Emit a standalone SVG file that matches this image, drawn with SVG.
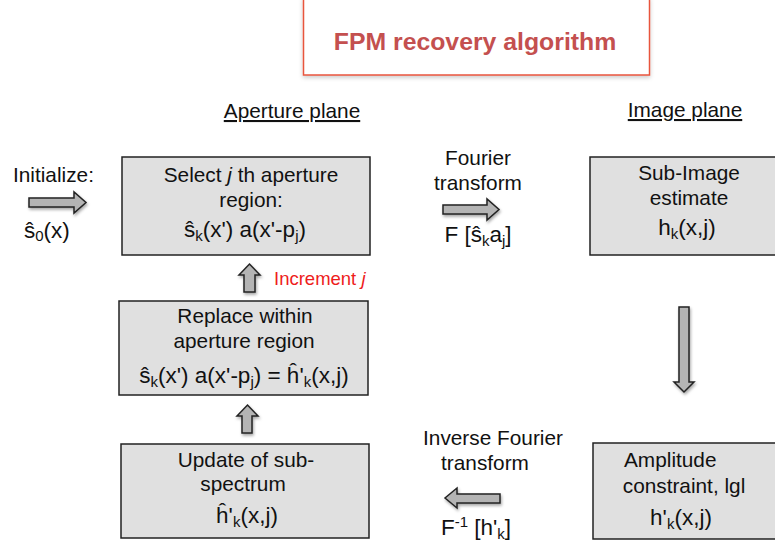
<svg xmlns="http://www.w3.org/2000/svg" width="775" height="548" viewBox="0 0 775 548">
<style>
text{font-family:"Liberation Sans",Arial,sans-serif;fill:#111}
.t{font-size:20.8px}
.f{font-size:22.5px}
.c{text-anchor:middle}
.box{fill:#e0e0e0;stroke:#222;stroke-width:1.5}
.arr{fill:#b4b4b4;stroke:#222;stroke-width:1.5;stroke-linejoin:miter;filter:url(#sh)}
.sub{font-size:15px}
</style>
<defs>
<filter id="sh" x="-30%" y="-30%" width="160%" height="160%">
<feDropShadow dx="1" dy="2" stdDeviation="1.5" flood-color="#000" flood-opacity="0.35"/>
</filter>
<filter id="sh2" x="-10%" y="-10%" width="120%" height="130%">
<feDropShadow dx="0" dy="2" stdDeviation="2" flood-color="#000" flood-opacity="0.2"/>
</filter>
</defs>
<rect width="775" height="548" fill="#fff"/>

<g id="title">
<rect x="303.5" y="-2" width="346" height="77" fill="#fff" stroke="#e8553e" stroke-width="1.5" filter="url(#sh2)"/>
<text x="475" y="50" class="c" style="font-size:24.8px;font-weight:bold;fill:#c4504f">FPM recovery algorithm</text>
</g>

<g id="labels">
<text x="292" y="118" class="t c" text-decoration="underline">Aperture plane</text>
<text x="685" y="117" class="t c" text-decoration="underline">Image plane</text>
</g>

<g id="initialize">
<text x="13" y="182" class="t">Initialize:</text>
<text x="24" y="238" class="f">ŝ<tspan class="sub" dy="3">0</tspan><tspan dy="-3">(x)</tspan></text>
</g>

<g id="select">
<rect class="box" x="122" y="157" width="248" height="98"/>
<text x="251" y="182" class="t c">Select <tspan font-style="italic">j</tspan> th aperture</text>
<text x="251" y="207" class="t c">region:</text>
<text x="245" y="237" class="f c">ŝ<tspan class="sub" dy="4">k</tspan><tspan dy="-4">(x') a(x'-p</tspan><tspan class="sub" dy="4">j</tspan><tspan dy="-4">)</tspan></text>
</g>

<g id="fourier">
<text x="478" y="165" class="t c">Fourier</text>
<text x="478" y="190" class="t c">transform</text>
<text x="478" y="242" class="f c">F [ŝ<tspan class="sub" dy="4">k</tspan><tspan dy="-4">a</tspan><tspan class="sub" dy="4">j</tspan><tspan dy="-4">]</tspan></text>
</g>

<g id="subimage">
<rect class="box" x="590" y="157" width="200" height="98"/>
<text x="689" y="180" class="t c">Sub-Image</text>
<text x="689" y="205" class="t c">estimate</text>
<text x="687" y="235" class="f c">h<tspan class="sub" dy="4">k</tspan><tspan dy="-4">(x,j)</tspan></text>
</g>

<g id="replace">
<rect class="box" x="119" y="301" width="249" height="94"/>
<text x="245" y="323" class="t c">Replace within</text>
<text x="244" y="348" class="t c">aperture region</text>
<text x="244" y="383" class="f c">ŝ<tspan class="sub" dy="4">k</tspan><tspan dy="-4">(x') a(x'-p</tspan><tspan class="sub" dy="4">j</tspan><tspan dy="-4">) =  ĥ'</tspan><tspan class="sub" dy="4">k</tspan><tspan dy="-4">(x,j)</tspan></text>
</g>

<g id="update">
<rect class="box" x="121" y="444" width="248" height="94"/>
<text x="246" y="467" class="t c">Update of sub-</text>
<text x="243" y="491" class="t c">spectrum</text>
<text x="247" y="523" class="f c">ĥ'<tspan class="sub" dy="4">k</tspan><tspan dy="-4">(x,j)</tspan></text>
</g>

<g id="inverse">
<text x="493" y="445" class="t c">Inverse Fourier</text>
<text x="485" y="470" class="t c">transform</text>
<text x="476" y="535" class="f c">F<tspan class="sub" dy="-8">-1</tspan><tspan dy="8"> [h'</tspan><tspan class="sub" dy="4">k</tspan><tspan dy="-4">]</tspan></text>
</g>

<g id="amplitude">
<rect class="box" x="593" y="443" width="200" height="96"/>
<text x="624" y="467" class="t">Amplitude</text>
<text x="684" y="493" class="t c">constraint, lgl</text>
<text x="681" y="525" class="f c">h'<tspan class="sub" dy="4">k</tspan><tspan dy="-4">(x,j)</tspan></text>
</g>

<g id="increment">
<text x="274" y="285" style="font-size:18.5px;fill:#ee1c1c">Increment <tspan font-style="italic">j</tspan></text>
</g>

<g id="connectors">
<path class="arr" d="M29,198 H74 V192 L86,202.5 L74,213 V207 H29 Z"/>
<path class="arr" d="M443,205 H487 V199 L499,209.5 L487,220 V214 H443 Z"/>
<path class="arr" d="M679,307 H689 V382 H694 L684,392 L674,382 H679 Z"/>
<path class="arr" d="M500,494 H457 V488 L445,498 L457,508 V503 H500 Z"/>
<path class="arr" d="M244,292 V275 H239 L249.5,264 L260,275 H255 V292 Z"/>
<path class="arr" d="M242,433 V416 H237 L247.5,405 L258,416 H252 V433 Z"/>
</g>
</svg>
